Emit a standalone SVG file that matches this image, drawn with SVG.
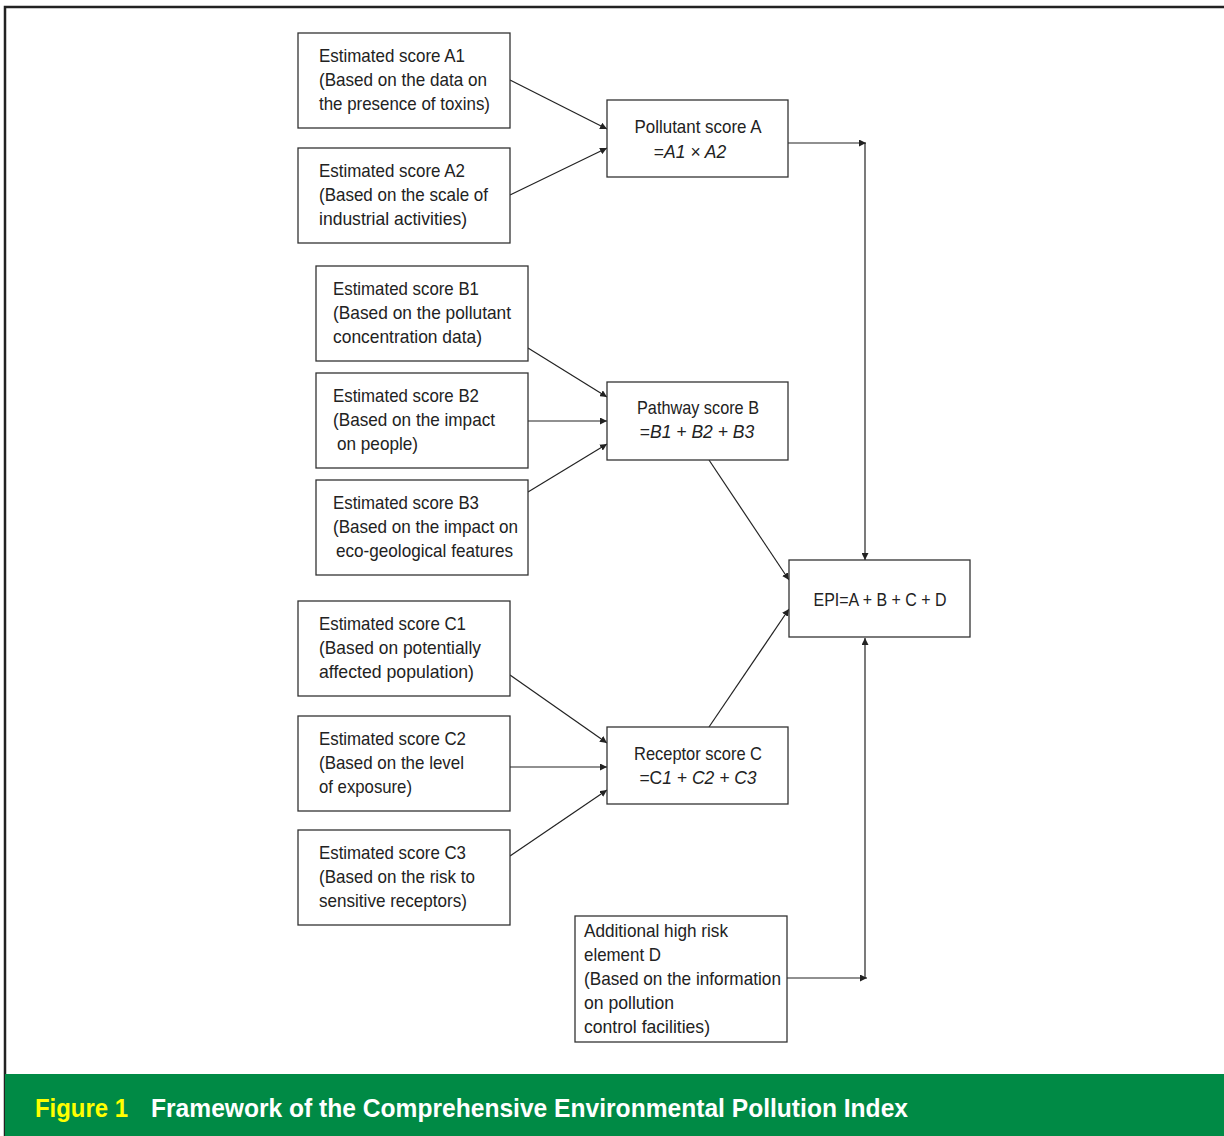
<svg xmlns="http://www.w3.org/2000/svg" width="1224" height="1136" viewBox="0 0 1224 1136">
<defs>
<marker id="ah" viewBox="0 0 10 10" refX="10" refY="5" markerWidth="7" markerHeight="7" orient="auto" markerUnits="userSpaceOnUse"><path d="M0,0 L10,5 L0,10 z" fill="#222"/></marker>
<style>
.box{fill:#fff;stroke:#333;stroke-width:1.3}
.t{font-family:"Liberation Sans",Arial,sans-serif;font-size:19px;fill:#222}
.f{font-family:"Liberation Sans",Arial,sans-serif;font-size:17.5px;fill:#222;text-anchor:middle}
.c{text-anchor:middle}
.i{font-style:italic}
.ln{stroke:#222;stroke-width:1.2;fill:none;marker-end:url(#ah)}
.cap{font-family:"Liberation Sans",Arial,sans-serif;font-size:25px;font-weight:bold}
</style>
</defs>
<rect x="0" y="0" width="1224" height="1136" fill="#fff"/>
<path d="M5,1136 V7 H1224" fill="none" stroke="#222" stroke-width="2.5"/>
<rect x="5" y="1074" width="1219" height="62" fill="#008a45"/>
<text class="cap" x="35" y="1117" fill="#ffff00" textLength="93" lengthAdjust="spacingAndGlyphs">Figure 1</text>
<text class="cap" x="151" y="1117" fill="#fff" textLength="757" lengthAdjust="spacingAndGlyphs">Framework of the Comprehensive Environmental Pollution Index</text>

<g id="connectors">
<line class="ln" x1="510" y1="80" x2="607" y2="129"/>
<line class="ln" x1="510" y1="195" x2="607" y2="148"/>
<line class="ln" x1="788" y1="143" x2="866" y2="143"/>
<line class="ln" x1="865" y1="143" x2="865" y2="560"/>
<line class="ln" x1="528" y1="348" x2="607" y2="397"/>
<line class="ln" x1="528" y1="421" x2="607" y2="421"/>
<line class="ln" x1="528" y1="492" x2="607" y2="444"/>
<line class="ln" x1="709" y1="460" x2="789" y2="580"/>
<line class="ln" x1="709" y1="727" x2="789" y2="609"/>
<line class="ln" x1="510" y1="675" x2="607" y2="743"/>
<line class="ln" x1="510" y1="767" x2="607" y2="767"/>
<line class="ln" x1="510" y1="856" x2="607" y2="790"/>
<line class="ln" x1="787" y1="978" x2="867" y2="978"/>
<line class="ln" x1="865" y1="978" x2="865" y2="638"/>
</g>

<g id="A1"><rect class="box" x="298" y="33" width="212" height="95"/>
<text class="t" x="319" y="62" textLength="146" lengthAdjust="spacingAndGlyphs">Estimated score A1</text>
<text class="t" x="319" y="86" textLength="168" lengthAdjust="spacingAndGlyphs">(Based on the data on</text>
<text class="t" x="319" y="110" textLength="171" lengthAdjust="spacingAndGlyphs">the presence of toxins)</text></g>
<g id="A2"><rect class="box" x="298" y="148" width="212" height="95"/>
<text class="t" x="319" y="177" textLength="146" lengthAdjust="spacingAndGlyphs">Estimated score A2</text>
<text class="t" x="319" y="201" textLength="169" lengthAdjust="spacingAndGlyphs">(Based on the scale of</text>
<text class="t" x="319" y="225" textLength="148" lengthAdjust="spacingAndGlyphs">industrial activities)</text></g>
<g id="A"><rect class="box" x="607" y="100" width="181" height="77"/>
<text class="t c" x="698" y="133" textLength="127" lengthAdjust="spacingAndGlyphs">Pollutant score A</text>
<text class="f" x="690" y="158">=<tspan class="i">A1 × A2</tspan></text></g>

<g id="B1"><rect class="box" x="316" y="266" width="212" height="95"/>
<text class="t" x="333" y="295" textLength="146" lengthAdjust="spacingAndGlyphs">Estimated score B1</text>
<text class="t" x="333" y="319" textLength="178" lengthAdjust="spacingAndGlyphs">(Based on the pollutant</text>
<text class="t" x="333" y="343" textLength="149" lengthAdjust="spacingAndGlyphs">concentration data)</text></g>
<g id="B2"><rect class="box" x="316" y="373" width="212" height="95"/>
<text class="t" x="333" y="402" textLength="146" lengthAdjust="spacingAndGlyphs">Estimated score B2</text>
<text class="t" x="333" y="426" textLength="162" lengthAdjust="spacingAndGlyphs">(Based on the impact</text>
<text class="t" x="337" y="450" textLength="81" lengthAdjust="spacingAndGlyphs">on people)</text></g>
<g id="B3"><rect class="box" x="316" y="480" width="212" height="95"/>
<text class="t" x="333" y="509" textLength="146" lengthAdjust="spacingAndGlyphs">Estimated score B3</text>
<text class="t" x="333" y="533" textLength="185" lengthAdjust="spacingAndGlyphs">(Based on the impact on</text>
<text class="t" x="336" y="557" textLength="177" lengthAdjust="spacingAndGlyphs">eco-geological features</text></g>
<g id="B"><rect class="box" x="607" y="382" width="181" height="78"/>
<text class="t c" x="698" y="414" textLength="122" lengthAdjust="spacingAndGlyphs">Pathway score B</text>
<text class="f" x="697" y="438">=<tspan class="i">B1 + B2 + B3</tspan></text></g>

<g id="EPI"><rect class="box" x="789" y="560" width="181" height="77"/>
<text class="t c" x="880" y="606" textLength="133" lengthAdjust="spacingAndGlyphs">EPI=A + B + C + D</text></g>

<g id="C1"><rect class="box" x="298" y="601" width="212" height="95"/>
<text class="t" x="319" y="630" textLength="147" lengthAdjust="spacingAndGlyphs">Estimated score C1</text>
<text class="t" x="319" y="654" textLength="162" lengthAdjust="spacingAndGlyphs">(Based on potentially</text>
<text class="t" x="319" y="678" textLength="155" lengthAdjust="spacingAndGlyphs">affected population)</text></g>
<g id="C2"><rect class="box" x="298" y="716" width="212" height="95"/>
<text class="t" x="319" y="745" textLength="147" lengthAdjust="spacingAndGlyphs">Estimated score C2</text>
<text class="t" x="319" y="769" textLength="145" lengthAdjust="spacingAndGlyphs">(Based on the level</text>
<text class="t" x="319" y="793" textLength="93" lengthAdjust="spacingAndGlyphs">of exposure)</text></g>
<g id="C3"><rect class="box" x="298" y="830" width="212" height="95"/>
<text class="t" x="319" y="859" textLength="147" lengthAdjust="spacingAndGlyphs">Estimated score C3</text>
<text class="t" x="319" y="883" textLength="156" lengthAdjust="spacingAndGlyphs">(Based on the risk to</text>
<text class="t" x="319" y="907" textLength="148" lengthAdjust="spacingAndGlyphs">sensitive receptors)</text></g>
<g id="C"><rect class="box" x="607" y="727" width="181" height="77"/>
<text class="t c" x="698" y="760" textLength="128" lengthAdjust="spacingAndGlyphs">Receptor score C</text>
<text class="f" x="698" y="784">=C<tspan class="i">1 + C2 + C3</tspan></text></g>

<g id="D"><rect class="box" x="575" y="916" width="212" height="126"/>
<text class="t" x="584" y="937" textLength="144" lengthAdjust="spacingAndGlyphs">Additional high risk</text>
<text class="t" x="584" y="961" textLength="77" lengthAdjust="spacingAndGlyphs">element D</text>
<text class="t" x="584" y="985" textLength="197" lengthAdjust="spacingAndGlyphs">(Based on the information</text>
<text class="t" x="584" y="1009" textLength="90" lengthAdjust="spacingAndGlyphs">on pollution</text>
<text class="t" x="584" y="1033" textLength="126" lengthAdjust="spacingAndGlyphs">control facilities)</text></g>
</svg>
